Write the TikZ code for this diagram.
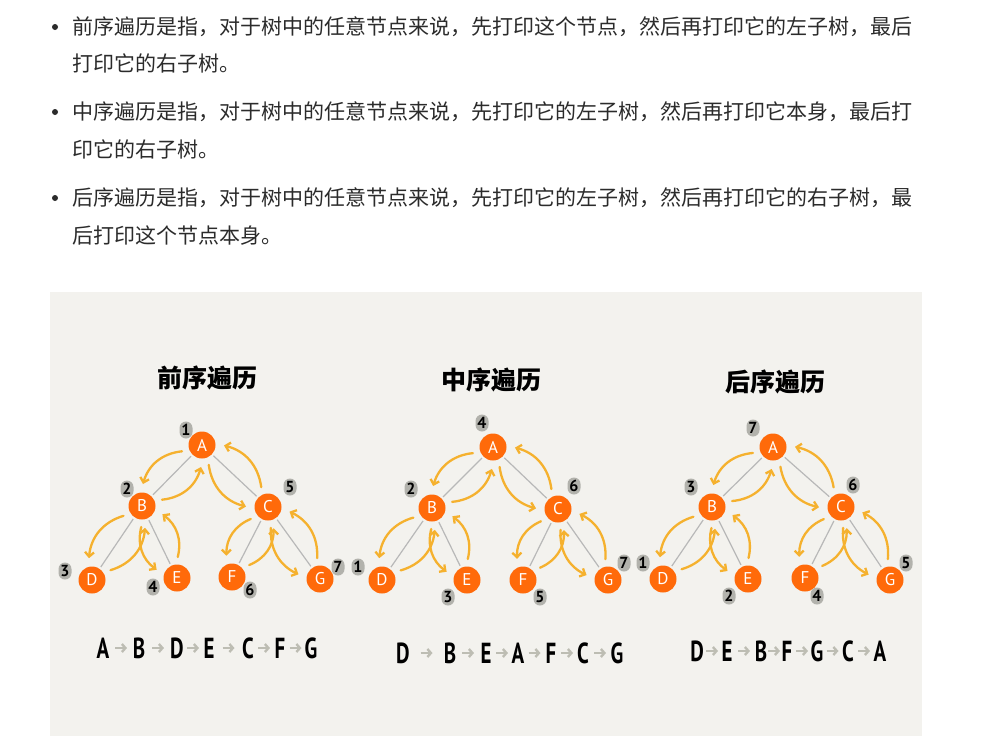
\documentclass[tikz,border=0pt]{standalone}
\usepackage{fontspec}
\setmainfont{PT Sans}
\newfontfamily\cjk{Noto Sans CJK SC}
\usetikzlibrary{arrows.meta,calc}
\definecolor{panel}{HTML}{F3F2EE}
\definecolor{nodeor}{HTML}{FF6A0A}
\definecolor{yarrc}{HTML}{F5B12E}
\definecolor{edgeg}{HTML}{B8B8B8}
\definecolor{blobg}{HTML}{B2B2AC}
\definecolor{seqg}{HTML}{BDBDB3}
\definecolor{txt}{HTML}{2B2B2B}
\newcommand\tourEdge[2]{%
  \draw[grayline] (#1) -- (#2);
  \draw[yarr] let \p1=(#1), \p2=(#2), \n1={atan2(\y2-\y1,\x2-\x1)} in
    ($(\p1)+({\n1-28}:21pt)$) to[bend right=34] ($(\p2)+({\n1+222}:22pt)$);
  \draw[yarr] let \p1=(#2), \p2=(#1), \n1={atan2(\y2-\y1,\x2-\x1)} in
    ($(\p1)+({\n1-28}:21pt)$) to[bend right=34] ($(\p2)+({\n1+222}:22pt)$);
}
\begin{document}
\begin{tikzpicture}[x=1pt,y=1pt,
  tnode/.style={circle,fill=nodeor,minimum size=27pt,inner sep=0pt,text=white,font=\fontsize{17}{17}\selectfont},
  grayline/.style={draw=edgeg,line width=1.2pt,shorten <=2pt,shorten >=2pt},
  yarr/.style={draw=yarrc,line width=2.3pt,line cap=round,-{Straight Barb[length=4.5pt,width=9pt]}},
  blob/.style={rectangle,rounded corners=6.5pt,fill=blobg,minimum width=13pt,minimum height=17pt,inner sep=0pt,font=\fontsize{16}{16}\selectfont\bfseries},
  body/.style={anchor=west,inner sep=0pt,text=txt,font=\cjk\fontsize{21}{21}\selectfont},
  bullet/.style={circle,fill=txt,minimum size=6pt,inner sep=0pt},
  title/.style={inner sep=0pt,font=\cjk\bfseries\fontsize{25}{25}\selectfont},
  seq/.style={inner sep=1pt,font=\bfseries\fontsize{29}{29}\selectfont},
  sarr/.style={draw=seqg,line width=2.4pt,-{Straight Barb[length=3.5pt,width=8pt]}}]
\useasboundingbox (0,0) rectangle (988,-736);
\fill[white] (0,0) rectangle (988,-736);
% text
\node[bullet] (b1) at (55,-27) {};
\node[bullet] (b2) at (55,-112) {};
\node[bullet] (b3) at (55,-198) {};
\node[body] (l1) at (72,-27) {前序遍历是指，对于树中的任意节点来说，先打印这个节点，然后再打印它的左子树，最后};
\node[body] (l2) at (72,-63) {打印它的右子树。};
\node[body] (l3) at (72,-112) {中序遍历是指，对于树中的任意节点来说，先打印它的左子树，然后再打印它本身，最后打};
\node[body] (l4) at (72,-149) {印它的右子树。};
\node[body] (l5) at (72,-198) {后序遍历是指，对于树中的任意节点来说，先打印它的左子树，然后再打印它的右子树，最};
\node[body] (l6) at (72,-236) {后打印这个节点本身。};
% panel
\fill[panel] (50,-292) rectangle (922,-736);
\node[title] (h1) at (207,-378) {前序遍历};
\node[title] (h2) at (491,-380) {中序遍历};
\node[title] (h3) at (775,-382) {后序遍历};
% tree 1
\node[tnode] (t1A) at (202,-445) {A};
\node[tnode] (t1B) at (142,-506) {B};
\node[tnode] (t1C) at (268,-507) {C};
\node[tnode] (t1D) at (92,-580) {D};
\node[tnode] (t1E) at (177,-578) {E};
\node[tnode] (t1F) at (232,-577) {F};
\node[tnode] (t1G) at (320,-579) {G};
% tree 2
\node[tnode] (t2A) at (493,-447) {A};
\node[tnode] (t2B) at (432,-508) {B};
\node[tnode] (t2C) at (558,-509) {C};
\node[tnode] (t2D) at (382,-580) {D};
\node[tnode] (t2E) at (467,-580) {E};
\node[tnode] (t2F) at (523,-580) {F};
\node[tnode] (t2G) at (608,-580) {G};
% tree 3
\node[tnode] (t3A) at (773,-447) {A};
\node[tnode] (t3B) at (712,-507) {B};
\node[tnode] (t3C) at (841,-507) {C};
\node[tnode] (t3D) at (663,-579) {D};
\node[tnode] (t3E) at (748,-579) {E};
\node[tnode] (t3F) at (805,-578) {F};
\node[tnode] (t3G) at (890,-580) {G};
\foreach \t in {1,2,3}{
  \tourEdge{t\t A}{t\t B}
  \tourEdge{t\t B}{t\t D}
  \tourEdge{t\t B}{t\t E}
  \tourEdge{t\t A}{t\t C}
  \tourEdge{t\t C}{t\t F}
  \tourEdge{t\t C}{t\t G}
}
% order blobs
\node[blob] (n1a) at (186,-430) {1};
\node[blob] (n1b) at (127,-489) {2};
\node[blob] (n1c) at (290,-487) {5};
\node[blob] (n1d) at (65,-571) {3};
\node[blob] (n1e) at (153,-587) {4};
\node[blob] (n1f) at (250,-590) {6};
\node[blob] (n1g) at (338,-567) {7};
\node[blob] (n2a) at (482,-423) {4};
\node[blob] (n2b) at (411,-489) {2};
\node[blob] (n2c) at (574,-486) {6};
\node[blob] (n2d) at (358,-567) {1};
\node[blob] (n2e) at (448,-597) {3};
\node[blob] (n2f) at (540,-597) {5};
\node[blob] (n2g) at (624,-563) {7};
\node[blob] (n3a) at (753,-428) {7};
\node[blob] (n3b) at (691,-487) {3};
\node[blob] (n3c) at (853,-485) {6};
\node[blob] (n3d) at (643,-563) {1};
\node[blob] (n3e) at (729,-596) {2};
\node[blob] (n3f) at (817,-596) {4};
\node[blob] (n3g) at (906,-563) {5};
% sequences
\foreach \l/\x [count=\i] in {A/103,B/139,D/177,E/209,C/248,F/280,G/311}
  \node[seq] (s1\i) at (\x,-648) {\scalebox{0.72}[1]{\l}};
\foreach \l/\x [count=\i] in {D/403,B/450,E/486,A/518,F/551,C/583,G/617}
  \node[seq] (s2\i) at (\x,-653) {\scalebox{0.72}[1]{\l}};
\foreach \l/\x [count=\i] in {D/697,E/727,B/761,F/787,G/817,C/848,A/880}
  \node[seq] (s3\i) at (\x,-651) {\scalebox{0.72}[1]{\l}};
\foreach \s in {1,2,3}{
  \foreach \i in {1,...,6}{
    \pgfmathtruncatemacro\j{\i+1}
    \draw[sarr] ($(s\s\i)!0.5!(s\s\j)+(-6,0)$) -- ($(s\s\i)!0.5!(s\s\j)+(6,0)$);
  }
}
\end{tikzpicture}
\end{document}
